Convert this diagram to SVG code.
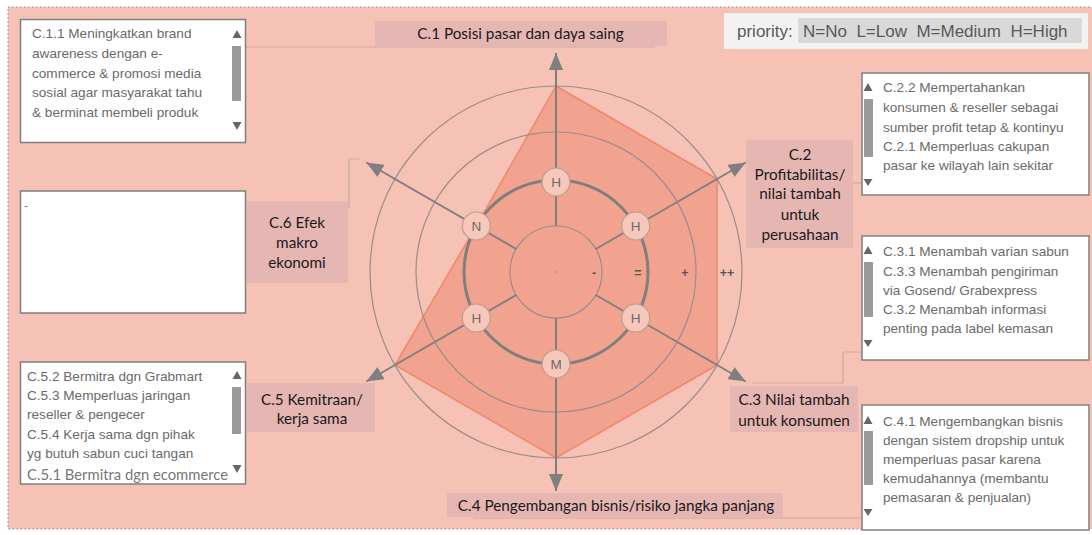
<svg xmlns="http://www.w3.org/2000/svg" width="1092" height="535" viewBox="0 0 1092 535">
<defs>
<marker id="ah" markerUnits="userSpaceOnUse" markerWidth="18" markerHeight="14" refX="17" refY="7" orient="auto">
<path d="M0,0 L17,7 L0,14 Z" fill="#7f7f7f"/>
</marker>
<style>
.box{fill:#fff;stroke:#7f7f7f;stroke-width:1.5}
.bt{font-family:"Liberation Sans",Arial,sans-serif;font-size:13.6px;fill:#6a6a6a}
.lb{fill:#e5b6b2}
.lt{font-family:Lato,"Open Sans",sans-serif;font-size:15.3px;fill:#1a1a1a;text-anchor:middle}
.thumb{fill:#9a9a9a}
.sa{fill:#666}
.ring{fill:none;stroke:#9a8c8a;stroke-width:1.2}
.axis{stroke:#7f7f7f;stroke-width:2;fill:none}
.con{stroke:#c9a9a5;stroke-width:1.2;fill:none}
.node circle{fill:#f7c7ba;stroke:#b79c96;stroke-width:1.2}
.node text{font-family:"Liberation Sans",Arial,sans-serif;font-size:13.5px;fill:#6a6a6a;text-anchor:middle}
.sc{font-family:"Liberation Sans",Arial,sans-serif;font-size:12.5px;font-weight:bold;fill:#555;text-anchor:middle}
.lg{font-family:"Liberation Sans",Arial,sans-serif;font-size:17px;fill:#595959}
</style>
</defs>
<rect x="0" y="0" width="1092" height="535" fill="#ffffff"/>
<rect x="8" y="7" width="1090" height="522" fill="#f6c2b5" stroke="#8a8a8a" stroke-width="1" stroke-dasharray="1.5,2.5"/>

<g id="connectors">
<polyline class="con" points="246,47 655,47"/>
<polyline class="con" points="360,159 349,159 349,208"/>
<polyline class="con" points="853,183 862,183"/>
<polyline class="con" points="862,352 843,352 843,383 752,383"/>
<polyline class="con" points="473,518 862,518"/>
</g>

<g id="radar">
<polygon points="556,86 717,179 717,365 556,458 395,365 476.3,226" fill="#f2a390" stroke="#f0866c" stroke-width="1.5"/>
<circle class="ring" cx="556" cy="272" r="186"/>
<circle class="ring" cx="556" cy="272" r="140"/>
<circle cx="556" cy="272" r="92" fill="none" stroke="#7f7f7f" stroke-width="3"/>
<circle class="ring" cx="556" cy="272" r="46"/>
<circle cx="556" cy="272" r="0.9" fill="#999"/>
<g id="axes">
<line class="axis" x1="556" y1="226" x2="556" y2="53" marker-end="url(#ah)"/>
<line class="axis" x1="595.8" y1="249" x2="745.7" y2="162.5" marker-end="url(#ah)"/>
<line class="axis" x1="595.8" y1="295" x2="745.7" y2="381.5" marker-end="url(#ah)"/>
<line class="axis" x1="556" y1="318" x2="556" y2="491" marker-end="url(#ah)"/>
<line class="axis" x1="516.2" y1="295" x2="366.3" y2="381.5" marker-end="url(#ah)"/>
<line class="axis" x1="516.2" y1="249" x2="366.3" y2="162.5" marker-end="url(#ah)"/>
</g>
<text class="sc" x="594" y="277">-</text>
<text class="sc" x="638" y="277">=</text>
<text class="sc" x="685" y="277">+</text>
<text class="sc" x="727" y="277">++</text>
</g>

<g id="node-c1" class="node"><circle cx="556" cy="182" r="14"/><text x="556" y="187">H</text></g>
<g id="node-c2" class="node"><circle cx="635.7" cy="226" r="14"/><text x="635.7" y="231">H</text></g>
<g id="node-c3" class="node"><circle cx="635.7" cy="318" r="14"/><text x="635.7" y="323">H</text></g>
<g id="node-c4" class="node"><circle cx="556" cy="364" r="14"/><text x="556" y="369">M</text></g>
<g id="node-c5" class="node"><circle cx="476.3" cy="318" r="14"/><text x="476.3" y="323">H</text></g>
<g id="node-c6" class="node"><circle cx="476.3" cy="226" r="14"/><text x="476.3" y="231">N</text></g>

<g id="label-c1"><rect class="lb" x="375" y="21" width="292" height="25"/><text class="lt" x="520.5" y="39">C.1 Posisi pasar dan daya saing</text></g>
<g id="label-c2"><rect class="lb" x="746" y="140" width="107" height="108"/>
<text class="lt" x="800" y="160">C.2</text><text class="lt" x="800" y="180">Profitabilitas/</text><text class="lt" x="800" y="199">nilai tambah</text><text class="lt" x="800" y="220">untuk</text><text class="lt" x="800" y="240">perusahaan</text></g>
<g id="label-c3"><rect class="lb" x="730" y="386" width="128" height="46"/>
<text class="lt" x="794" y="405">C.3 Nilai tambah</text><text class="lt" x="794" y="426">untuk konsumen</text></g>
<g id="label-c4"><rect class="lb" x="447" y="493" width="336" height="24"/><text class="lt" x="616" y="511">C.4 Pengembangan bisnis/risiko jangka panjang</text></g>
<g id="label-c5"><rect class="lb" x="247" y="383" width="128" height="49"/>
<text class="lt" x="312" y="405">C.5 Kemitraan/</text><text class="lt" x="312" y="424">kerja sama</text></g>
<g id="label-c6"><rect class="lb" x="247" y="201" width="101" height="82"/>
<text class="lt" x="297" y="228">C.6 Efek</text><text class="lt" x="297" y="248">makro</text><text class="lt" x="297" y="268">ekonomi</text></g>

<g id="box-c1">
<rect class="box" x="20.5" y="19.5" width="225" height="123"/>
<text class="bt" x="32" y="38">C.1.1 Meningkatkan brand</text>
<text class="bt" x="32" y="58">awareness dengan e-</text>
<text class="bt" x="32" y="78">commerce &amp; promosi media</text>
<text class="bt" x="32" y="97">sosial agar masyarakat tahu</text>
<text class="bt" x="32" y="117">&amp; berminat membeli produk</text>
<path class="sa" d="M232.5,38 L241.5,38 L237,30 Z"/>
<rect class="thumb" x="232" y="46" width="9" height="55"/>
<path class="sa" d="M232.5,122 L241.5,122 L237,130 Z"/>
</g>

<g id="box-c6">
<rect class="box" x="20.5" y="191" width="225" height="122"/>
<text class="bt" x="24" y="209" style="font-size:11px">-</text>
</g>

<g id="box-c5">
<rect class="box" x="20.5" y="362" width="225" height="122"/>
<text class="bt" x="27" y="381">C.5.2 Bermitra dgn Grabmart</text>
<text class="bt" x="27" y="400">C.5.3 Memperluas jaringan</text>
<text class="bt" x="27" y="419">reseller &amp; pengecer</text>
<text class="bt" x="27" y="439">C.5.4 Kerja sama dgn pihak</text>
<text class="bt" x="27" y="458">yg butuh sabun cuci tangan</text>
<text x="27" y="480" style="font-family:Lato,'Open Sans',sans-serif;font-size:14.8px;fill:#777">C.5.1 Bermitra dgn ecommerce</text>
<path class="sa" d="M232.5,379 L241.5,379 L237,371 Z"/>
<rect class="thumb" x="232" y="387" width="9" height="47"/>
<path class="sa" d="M232.5,465 L241.5,465 L237,473 Z"/>
</g>

<g id="box-c2">
<rect class="box" x="862" y="73" width="227" height="122"/>
<text class="bt" x="883" y="92">C.2.2 Mempertahankan</text>
<text class="bt" x="883" y="112">konsumen &amp; reseller sebagai</text>
<text class="bt" x="883" y="132">sumber profit tetap &amp; kontinyu</text>
<text class="bt" x="883" y="151">C.2.1 Memperluas cakupan</text>
<text class="bt" x="883" y="170">pasar ke wilayah lain sekitar</text>
<path class="sa" d="M863.5,91 L872.5,91 L868,83 Z"/>
<rect class="thumb" x="864" y="99" width="9" height="58"/>
<path class="sa" d="M863.5,179 L872.5,179 L868,186 Z"/>
</g>

<g id="box-c3">
<rect class="box" x="862" y="236" width="227" height="124"/>
<text class="bt" x="883" y="256">C.3.1 Menambah varian sabun</text>
<text class="bt" x="883" y="276">C.3.3 Menambah pengiriman</text>
<text class="bt" x="883" y="295">via Gosend/ Grabexpress</text>
<text class="bt" x="883" y="314">C.3.2 Menambah informasi</text>
<text class="bt" x="883" y="333">penting pada label kemasan</text>
<path class="sa" d="M863.5,254 L872.5,254 L868,246 Z"/>
<rect class="thumb" x="864" y="262" width="9" height="55"/>
<path class="sa" d="M863.5,340 L872.5,340 L868,347 Z"/>
</g>

<g id="box-c4">
<rect class="box" x="862" y="405" width="227" height="125"/>
<text class="bt" x="883" y="426">C.4.1 Mengembangkan bisnis</text>
<text class="bt" x="883" y="445">dengan sistem dropship untuk</text>
<text class="bt" x="883" y="464">memperluas pasar karena</text>
<text class="bt" x="883" y="483">kemudahannya (membantu</text>
<text class="bt" x="883" y="502">pemasaran &amp; penjualan)</text>
<path class="sa" d="M863.5,424 L872.5,424 L868,416 Z"/>
<rect class="thumb" x="864" y="431" width="9" height="54"/>
<path class="sa" d="M863.5,509 L872.5,509 L868,516 Z"/>
</g>

<g id="legend">
<rect x="724" y="13" width="364" height="36" fill="#f2f2f2"/>
<rect x="798" y="18" width="284" height="25" fill="#d9d9d9"/>
<text class="lg" x="737" y="37">priority:</text>
<text class="lg" x="803" y="37" xml:space="preserve">N=No  L=Low  M=Medium  H=High</text>
</g>
</svg>
